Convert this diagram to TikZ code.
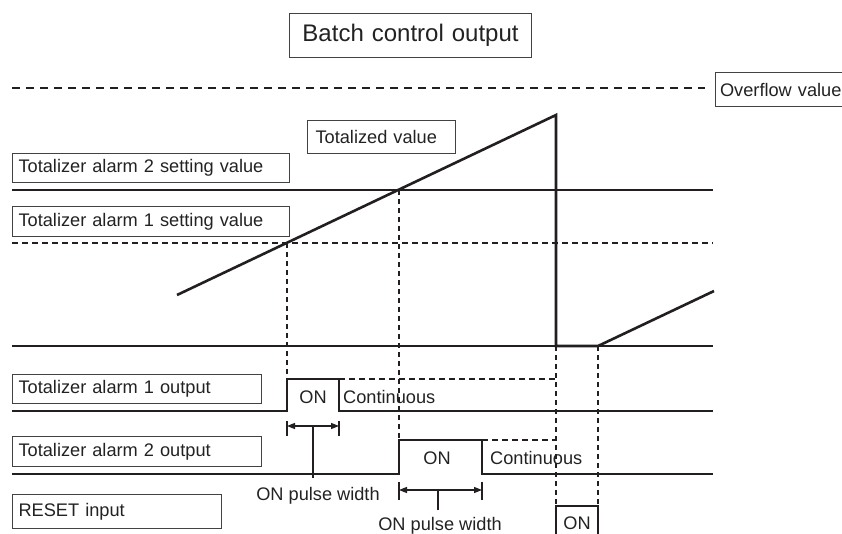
\documentclass[tikz,border=0pt]{standalone}
\usepackage{fontspec}
\setmainfont{Liberation Sans}
\usetikzlibrary{arrows.meta}
\definecolor{ink}{HTML}{231F20}
\definecolor{txt}{HTML}{222222}
\newcommand{\fsA}{\fontsize{18.2}{21}\selectfont}
\newcommand{\fsB}{\fontsize{24}{28}\selectfont}
\tikzset{
  lblbox/.style={draw=ink!85, line width=1.1pt, anchor=north west, inner xsep=6pt, inner ysep=0pt,
    font=\fsA, text=txt, align=left},
  plain/.style={inner sep=0pt, font=\fsA, text=txt},
  thin/.style={draw=ink, line width=1.2pt},
  thick/.style={draw=ink, line width=2.6pt, line join=miter},
  dsh/.style={draw=ink, line width=1.3pt, dash pattern=on 6pt off 4pt},
  vdsh/.style={draw=ink, line width=1.4pt, dash pattern=on 5pt off 4pt},
  ovdsh/.style={draw=ink, line width=1.4pt, dash pattern=on 8pt off 6pt},
  dimarrow/.style={draw=ink, line width=1.2pt, {Triangle[length=8pt,width=6pt]}-{Triangle[length=8pt,width=6pt]}},
}
\begin{document}
\begin{tikzpicture}[x=1pt,y=-1pt]
\useasboundingbox (0,0) rectangle (842,533);
\clip (0,0) rectangle (842,533);
% label boxes
\node[lblbox, font=\fsB, align=center, text width=230pt, minimum height=44pt] (batch) at (289,13) {Batch control output};
\node[lblbox, inner xsep=4.5pt, text width=128pt, minimum height=34pt] (overflow) at (715,72) {Overflow value};
\node[lblbox, inner xsep=8pt, text width=132pt, minimum height=33pt] (total) at (307,120) {Totalized value};
\node[lblbox, text width=265pt, minimum height=29pt] (a2set) at (12,153) {Totalizer alarm 2 setting value};
\node[lblbox, text width=265pt, minimum height=30pt] (a1set) at (12,206) {Totalizer alarm 1 setting value};
\node[lblbox, text width=237pt, minimum height=29pt] (a1out) at (12,374) {Totalizer alarm 1 output};
\node[lblbox, text width=237pt, minimum height=30pt] (a2out) at (12,436) {Totalizer alarm 2 output};
\node[lblbox, text width=197pt, minimum height=34pt] (reset) at (12,494) {RESET input};
% reference lines
\coordinate (ovL) at (12,88); \coordinate (ovR) at (705,88);
\path[ovdsh] (ovL) -- (ovR);
\coordinate (s2L) at (12,190); \coordinate (s2R) at (713,190);
\path[thin] (s2L) -- (s2R);
\coordinate (s1L) at (12,243); \coordinate (s1R) at (713,243);
\path[dsh] (s1L) -- (s1R);
\coordinate (bL) at (12,346); \coordinate (bR) at (713,346);
\path[thin] (bL) -- (bR);
% totalized value curve
\coordinate (t0) at (177,295);
\coordinate (tpk) at (556,115);
\coordinate (tdn) at (556,346);
\coordinate (trs) at (598,346);
\coordinate (tend) at (714,291);
\path[thick] (t0) -- (tpk) -- (tdn) -- (trs) -- (tend);
% crossing points
\coordinate (c1) at (287,243);
\coordinate (c2) at (399,190);
% alarm 1 output
\coordinate (a1r) at (287,379);
\coordinate (a1f) at (339,379);
\path[thin] (12,411) -- (287,411) -- (a1r) -- (a1f) -- (339,411) -- (713,411);
\coordinate (a1e) at (556,379);
\path[dsh] (a1f) -- (a1e);
% alarm 2 output
\coordinate (a2r) at (399,440);
\coordinate (a2f) at (482,440);
\path[thin] (12,474) -- (399,474) -- (a2r) -- (a2f) -- (482,474) -- (713,474);
\coordinate (a2e) at (556,440);
\path[dsh] (a2f) -- (a2e);
% reset input
\coordinate (r1) at (556,506);
\coordinate (r2) at (598,506);
\path[thin] (556,540) -- (r1) -- (r2) -- (598,540);
% vertical dashed guides
\path[vdsh] (c1) -- (a1r);
\path[vdsh] (c2) -- (a2r);
\path[vdsh] (tdn) -- (r1);
\path[vdsh] (trs) -- (r2);
% ON pulse width dimension 1
\path[thin] (287,421) -- (287,436);
\path[thin] (339,421) -- (339,436);
\coordinate (d1L) at (287,426); \coordinate (d1R) at (339,426);
\path[dimarrow] (d1L) -- (d1R);
\coordinate (d1m) at (313,426); \coordinate (d1b) at (313,478);
\path[thin] (d1m) -- (d1b);
% ON pulse width dimension 2
\path[thin] (399,482) -- (399,500);
\path[thin] (482,482) -- (482,500);
\coordinate (d2L) at (399,490); \coordinate (d2R) at (482,490);
\path[dimarrow] (d2L) -- (d2R);
\coordinate (d2m) at (438,490); \coordinate (d2b) at (438,510);
\path[thin] (d2m) -- (d2b);
% texts
\node[plain, anchor=base] (on1) at (313,403) {ON};
\node[plain, anchor=base west] (cont1) at (343,403) {Continuous};
\node[plain, anchor=base] (on2) at (437,464) {ON};
\node[plain, anchor=base west] (cont2) at (490,464) {Continuous};
\node[plain, anchor=base] (pw1) at (318,500) {ON pulse width};
\node[plain, anchor=base] (pw2) at (440,530) {ON pulse width};
\node[plain, anchor=base] (on3) at (577,529) {ON};
\end{tikzpicture}
\end{document}
